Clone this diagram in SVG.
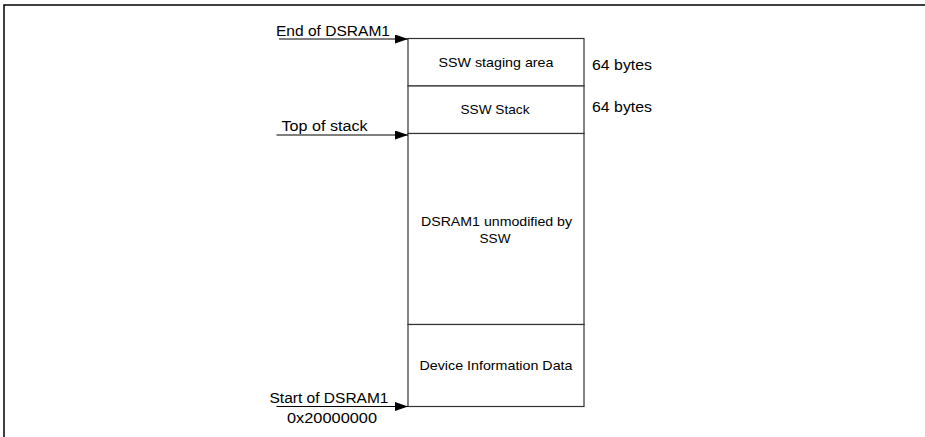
<svg xmlns="http://www.w3.org/2000/svg" width="925" height="437" viewBox="0 0 925 437">
  <defs>
    <marker id="arr" markerUnits="userSpaceOnUse" markerWidth="14" markerHeight="10" refX="13" refY="4.5" orient="auto">
      <path d="M0,0 L13,4.5 L0,9 Z" fill="#000"/>
    </marker>
    <style>
      text { font-family: "Liberation Sans", Arial, sans-serif; fill: #000; }
      .lbl { font-size: 14px; }
      .box { font-size: 13px; text-anchor: middle; }
      .cell { fill: #fff; stroke: #333; stroke-width: 1.2; }
      .conn { stroke: #000; stroke-width: 1.2; fill: none; marker-end: url(#arr); }
    </style>
  </defs>
  <rect x="0" y="0" width="925" height="437" fill="#fff"/>
  <path d="M4,437 L4,5 L925,5" fill="none" stroke="#000" stroke-width="1.5"/>

  <g id="staging">
    <rect class="cell" x="408" y="38.5" width="176" height="47.5"/>
    <text class="box" x="496" y="66.5" textLength="115" lengthAdjust="spacingAndGlyphs">SSW staging area</text>
  </g>
  <g id="stack">
    <rect class="cell" x="408" y="86" width="176" height="47.5"/>
    <text class="box" x="495" y="114" textLength="69" lengthAdjust="spacingAndGlyphs">SSW Stack</text>
  </g>
  <g id="unmodified">
    <rect class="cell" x="408" y="133.5" width="176" height="191"/>
    <text class="box" x="496.5" y="225.5" textLength="151" lengthAdjust="spacingAndGlyphs">DSRAM1 unmodified by</text>
    <text class="box" x="495" y="242.5" textLength="31" lengthAdjust="spacingAndGlyphs">SSW</text>
  </g>
  <g id="device-info">
    <rect class="cell" x="408" y="324.5" width="176" height="82"/>
    <text class="box" x="496" y="370" textLength="153" lengthAdjust="spacingAndGlyphs">Device Information Data</text>
  </g>

  <g id="size-labels">
    <text class="lbl" x="592" y="70" textLength="60" lengthAdjust="spacingAndGlyphs">64 bytes</text>
    <text class="lbl" x="592" y="111.5" textLength="60" lengthAdjust="spacingAndGlyphs">64 bytes</text>
  </g>

  <g id="pointer-labels">
    <text class="lbl" x="276" y="35.5" textLength="114" lengthAdjust="spacingAndGlyphs">End of DSRAM1</text>
    <text class="lbl" x="281.5" y="130.5" textLength="86" lengthAdjust="spacingAndGlyphs">Top of stack</text>
    <text class="lbl" x="269.5" y="403" textLength="119" lengthAdjust="spacingAndGlyphs">Start of DSRAM1</text>
    <text class="lbl" x="287" y="422.5" textLength="90" lengthAdjust="spacingAndGlyphs">0x20000000</text>
  </g>

  <g id="connectors">
    <line class="conn" x1="279" y1="39" x2="408" y2="39"/>
    <line class="conn" x1="276.5" y1="135" x2="408" y2="135"/>
    <line class="conn" x1="276.5" y1="406.5" x2="408" y2="406.5"/>
  </g>
</svg>
